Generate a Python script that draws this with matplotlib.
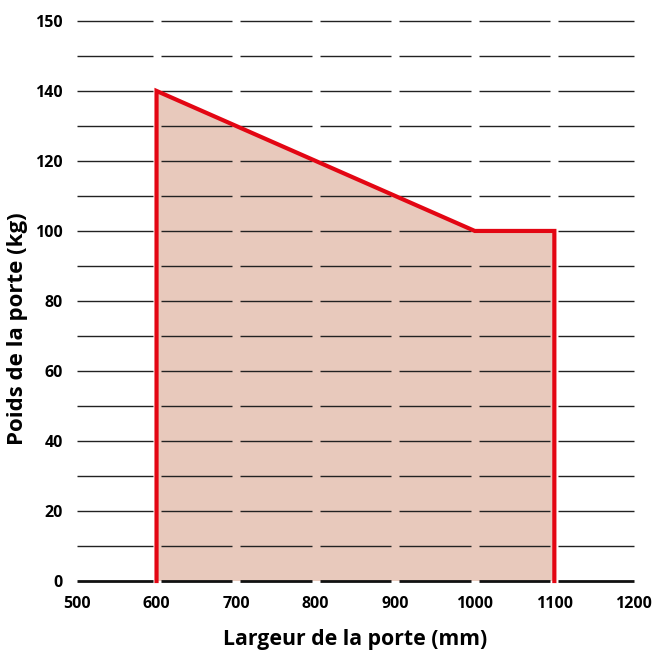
import matplotlib
matplotlib.use("Agg")
import matplotlib.pyplot as plt
import numpy as np

# door width (mm) vs max door weight (kg)
width_mm = [600, 600, 1000, 1100, 1100]
weight_kg = [0, 140, 100, 100, 0]

x_ticks = [500, 600, 700, 800, 900, 1000, 1100, 1200]
y_ticks = [0, 20, 40, 60, 80, 100, 120, 140, 160]
y_tick_labels = ["0", "20", "40", "60", "80", "100", "120", "140", "150"]
grid_levels = list(range(0, 161, 10))

plt.rcParams['font.family'] = ['Open Sans', 'DejaVu Sans']

fig = plt.figure(figsize=(6.67, 6.52), dpi=100)
ax = fig.add_axes([0.1154, 0.1089, 0.835, 0.859])
ax.set_xlim(500, 1200)
ax.set_ylim(0, 160)

# segmented horizontal grid (gaps at each x tick)
gap = 5
for y in grid_levels:
    lw = 2.0 if y == 0 else 1.0
    col = '#111111' if y == 0 else '#222222'
    for x0, x1 in zip(x_ticks[:-1], x_ticks[1:]):
        x_start = x0 if x0 == x_ticks[0] else x0 + gap
        x_end = x1 if x1 == x_ticks[-1] else x1 - gap
        ax.plot([x_start, x_end], [y, y], color=col, lw=lw, zorder=2,
                clip_on=False, solid_capstyle='butt')

ax.fill(width_mm, weight_kg, color='#e8c9bc', lw=0, zorder=1)
ax.plot(width_mm, weight_kg, color='#e30613', lw=3, zorder=3,
        clip_on=False, solid_joinstyle='miter')

for s in ax.spines.values():
    s.set_visible(False)

ax.set_xticks(x_ticks)
ax.set_xticklabels([str(v) for v in x_ticks], fontsize=11.5, fontweight='bold')
ax.set_yticks(y_ticks)
ax.set_yticklabels(y_tick_labels, fontsize=11.5, fontweight='bold')
ax.tick_params(axis='x', length=0, pad=11)
ax.tick_params(axis='y', length=0, pad=10)

ax.set_xlabel("Largeur de la porte (mm)", fontsize=15.3, fontweight='bold', labelpad=12)
ax.set_ylabel("Poids de la porte (kg)", fontsize=16, fontweight='bold')
ax.yaxis.set_label_coords(-0.088, 0.45)

fig.savefig("out.png", dpi=100)
